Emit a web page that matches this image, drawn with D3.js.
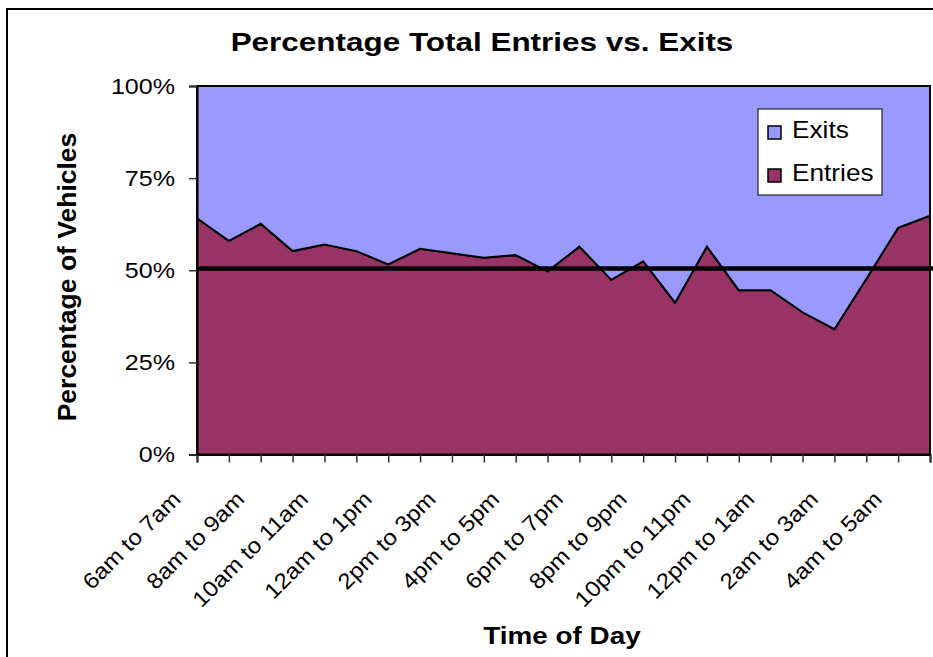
<!DOCTYPE html>
<html>
<head>
<meta charset="utf-8">
<script src="https://cdn.jsdelivr.net/npm/d3@7"></script>
<style>
  html, body { margin: 0; padding: 0; background: #fff; }
  svg { display: block; font-family: "Liberation Sans", Arial, sans-serif; }
</style>
</head>
<body>
<svg id="chart" width="933" height="657"></svg>
<script>
// Hourly periods of the day, starting at 6am
const categories = [
  "6am to 7am", "7am to 8am", "8am to 9am", "9am to 10am",
  "10am to 11am", "11am to 12am", "12am to 1pm", "1pm to 2pm",
  "2pm to 3pm", "3pm to 4pm", "4pm to 5pm", "5pm to 6pm",
  "6pm to 7pm", "7pm to 8pm", "8pm to 9pm", "9pm to 10pm",
  "10pm to 11pm", "11pm to 12pm", "12pm to 1am", "1am to 2am",
  "2am to 3am", "3am to 4am", "4am to 5am", "5am to 6am"
];

// Share of vehicles entering in each hour (%)
const entries = [
  64.1, 58.0, 62.6, 55.2, 57.0, 55.2, 51.6, 55.8,
  54.6, 53.4, 54.1, 49.7, 56.4, 47.4, 52.4, 41.2,
  56.4, 44.6, 44.6, 38.6, 34.0, 47.6, 61.5, 64.8
];

// Share of vehicles exiting in each hour (%)
const exits = entries.map(v => 100 - v);

const yTicks = [0, 25, 50, 75, 100];
const balanceLevel = 50.5;

const seriesNames = ["Entries", "Exits"];
const seriesColors = { Entries: "#993366", Exits: "#9999FF" };

const svg = d3.select("#chart");
const plot = { left: 197, right: 930, top: 86, bottom: 454.5 };

// outer chart frame
svg.append("rect")
  .attr("x", 7).attr("y", 9)
  .attr("width", 960).attr("height", 700)
  .attr("fill", "#fff").attr("stroke", "#000").attr("stroke-width", 2);

const x = d3.scalePoint().domain(categories).range([plot.left, plot.right]);
const y = d3.scaleLinear().domain([0, 100]).range([plot.bottom, plot.top]);

const rows = categories.map((c, i) => ({ cat: c, Entries: entries[i], Exits: exits[i] }));
const stacked = d3.stack().keys(seriesNames)(rows);

const area = d3.area()
  .x(d => x(d.data.cat))
  .y0(d => y(d[0]))
  .y1(d => y(d[1]));

svg.append("g").selectAll("path")
  .data(stacked)
  .join("path")
  .attr("d", area)
  .attr("fill", d => seriesColors[d.key])
  .attr("stroke", "#000")
  .attr("stroke-width", 2)
  .attr("stroke-linejoin", "miter");

// heavy reference line at the even split
svg.append("line")
  .attr("x1", plot.left).attr("x2", 933)
  .attr("y1", y(balanceLevel)).attr("y2", y(balanceLevel))
  .attr("stroke", "#000").attr("stroke-width", 4.5);

// y axis
const yAxis = svg.append("g")
  .attr("transform", `translate(${plot.left},0)`)
  .call(d3.axisLeft(y).tickValues(yTicks).tickFormat(d => d + "%").tickSize(8).tickPadding(14));
yAxis.select(".domain").attr("stroke", "#000").attr("stroke-width", 2);
yAxis.selectAll(".tick line").attr("stroke", "#333").attr("stroke-width", 1.5);
yAxis.selectAll(".tick text")
  .attr("font-size", 22).attr("fill", "#000")
  .attr("font-family", "Liberation Sans, Arial, sans-serif")
  .attr("transform", "scale(1.14,1)")
  .attr("x", -22 / 1.14);

// x axis
const xAxis = svg.append("g")
  .attr("transform", `translate(0,${plot.bottom})`)
  .call(d3.axisBottom(x).tickSize(8).tickFormat(""));
xAxis.select(".domain").attr("stroke", "#000").attr("stroke-width", 2);
xAxis.selectAll(".tick line").attr("stroke", "#333").attr("stroke-width", 1.5);

// every second hour is labelled
svg.append("g").selectAll("text")
  .data(categories.filter((c, i) => i % 2 === 0))
  .join("text")
  .attr("transform", c => `translate(${x(c) - 15},${plot.bottom + 46}) rotate(-45) scale(1.1,1)`)
  .attr("text-anchor", "end")
  .attr("font-size", 22)
  .attr("fill", "#000")
  .text(c => c);

// titles
svg.append("text")
  .attr("transform", "translate(482,51) scale(1.21,1)")
  .attr("text-anchor", "middle")
  .attr("font-size", 26).attr("font-weight", "bold")
  .text("Percentage Total Entries vs. Exits");

svg.append("text")
  .attr("transform", "translate(562,644) scale(1.16,1)")
  .attr("text-anchor", "middle")
  .attr("font-size", 24).attr("font-weight", "bold")
  .text("Time of Day");

svg.append("text")
  .attr("transform", "translate(76,277) rotate(-90)")
  .attr("text-anchor", "middle")
  .attr("font-size", 26.5).attr("font-weight", "bold")
  .text("Percentage of Vehicles");

// legend, Exits listed first
const legend = svg.append("g").attr("transform", "translate(758,109)");
legend.append("rect")
  .attr("width", 124).attr("height", 86)
  .attr("fill", "#fff").attr("stroke", "#000").attr("stroke-width", 1);
const legendItems = ["Exits", "Entries"];
legendItems.forEach((name, i) => {
  const g = legend.append("g").attr("transform", `translate(10,${17 + i * 43})`);
  g.append("rect").attr("width", 13).attr("height", 13)
    .attr("fill", seriesColors[name]).attr("stroke", "#000").attr("stroke-width", 1.5);
  g.append("text")
    .attr("transform", "translate(24,12) scale(1.14,1)")
    .attr("font-size", 23).attr("fill", "#000")
    .text(name);
});
</script>
</body>
</html>
